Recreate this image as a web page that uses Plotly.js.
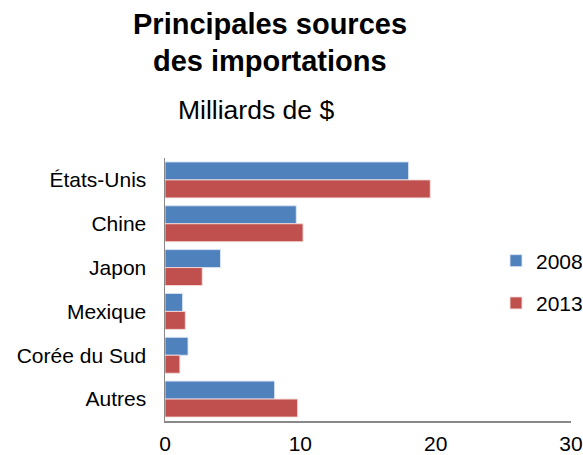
<!DOCTYPE html>
<html>
<head>
<meta charset="utf-8">
<script src="https://cdn.plot.ly/plotly-3.0.1.min.js"></script>
<style>html,body{margin:0;padding:0;background:#fff;}#chart{width:583px;height:455px;}</style>
</head>
<body>
<div id="chart"></div>
<script>
const categories = ["États-Unis", "Chine", "Japon", "Mexique", "Corée du Sud", "Autres"];
const values2008 = [18.0, 9.7, 4.1, 1.3, 1.7, 8.1];
const values2013 = [19.6, 10.2, 2.75, 1.5, 1.1, 9.8];
const seriesNames = ["2008", "2013"];
const xTicks = [0, 10, 20, 30];

const FONT = '"Liberation Sans", Arial, Helvetica, sans-serif';
const L = 165, R = 12, T = 158, B = 34, W = 583, H = 455;
const pw = W - L - R, ph = H - T - B;
const px = x => (x - L) / pw;
const py = y => (H - B - y) / ph;

const data = [
  {
    type: 'bar', orientation: 'h', name: seriesNames[0],
    y: categories, x: values2008, legendgroup: 'a',
    marker: {color: '#4F81BD', line: {color: 'rgba(220,230,245,0.9)', width: 1}},
    hoverinfo: 'x+y'
  },
  {
    type: 'bar', orientation: 'h', name: seriesNames[1],
    y: categories, x: values2013, legendgroup: 'b',
    marker: {color: '#C0504D', line: {color: 'rgba(245,220,220,0.9)', width: 1}},
    hoverinfo: 'x+y'
  }
];

const layout = {
  width: W, height: H,
  margin: {l: L, r: R, t: T, b: B, pad: 0, autoexpand: false},
  paper_bgcolor: '#fff', plot_bgcolor: '#fff',
  font: {family: FONT, color: '#000', size: 21},
  barmode: 'group', bargap: 0.18, bargroupgap: 0,
  showlegend: true,
  legend: {
    x: px(496), y: py(282), xanchor: 'left', yanchor: 'middle',
    font: {family: FONT, size: 21, color: '#000'},
    traceorder: 'grouped', tracegroupgap: 12,
    bgcolor: 'rgba(0,0,0,0)', borderwidth: 0
  },
  xaxis: {
    range: [0, 30], tickvals: xTicks, ticktext: xTicks.map(String),
    showgrid: false, zeroline: false, showline: true,
    linecolor: '#898989', linewidth: 1.5, ticks: '',
    ticklabelstandoff: 3,
    tickfont: {family: FONT, size: 21, color: '#000'},
    fixedrange: true
  },
  yaxis: {
    type: 'category', autorange: 'reversed',
    showgrid: false, zeroline: false, showline: true,
    linecolor: '#898989', linewidth: 1.5, ticks: '',
    ticklabelstandoff: 13,
    tickfont: {family: FONT, size: 21, color: '#000'},
    fixedrange: true
  },
  annotations: [
    {text: '<b>Principales sources</b>', xref: 'paper', yref: 'paper',
     x: px(270), y: py(24), xanchor: 'center', yanchor: 'middle', showarrow: false,
     font: {family: FONT, size: 29, color: '#000'}},
    {text: '<b>des importations</b>', xref: 'paper', yref: 'paper',
     x: px(270), y: py(61), xanchor: 'center', yanchor: 'middle', showarrow: false,
     font: {family: FONT, size: 29, color: '#000'}},
    {text: 'Milliards de $', xref: 'paper', yref: 'paper',
     x: px(256), y: py(110), xanchor: 'center', yanchor: 'middle', showarrow: false,
     font: {family: FONT, size: 26.5, color: '#000'}}
  ]
};

Plotly.newPlot('chart', data, layout, {displayModeBar: false, staticPlot: true});
</script>
</body>
</html>
